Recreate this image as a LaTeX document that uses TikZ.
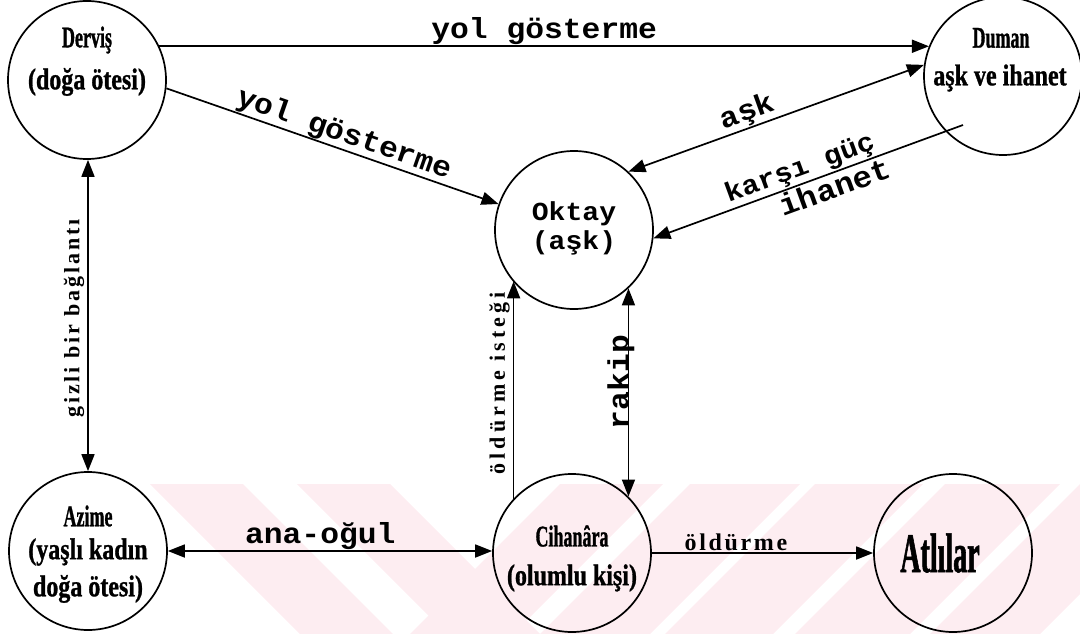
\documentclass[tikz,border=0pt]{standalone}
\usepackage{fontspec}
\usetikzlibrary{arrows.meta,calc}
\newfontfamily\monob{Liberation Mono Bold}[FakeStretch=1.08]
\newfontfamily\namefont{Liberation Serif Bold}[FakeStretch=0.6,FakeBold=1]
\newfontfamily\descfont{Liberation Serif Bold}[FakeStretch=0.8,FakeBold=1]
\newfontfamily\bigfont{Liberation Serif Bold}[FakeStretch=0.5,FakeBold=1]
\newfontfamily\smallfontA{Liberation Serif Bold}[LetterSpace=13]
\newfontfamily\smallfontB{Liberation Serif Bold}[LetterSpace=18]
\newfontfamily\smallfontC{Liberation Serif Bold}[LetterSpace=11]
\definecolor{wmpink}{RGB}{253,237,241}
\tikzset{
  ent/.style={circle,draw,line width=1.7pt,minimum size=158pt,inner sep=0pt},
  con/.style={line width=1.7pt},
  arr/.style={-{Triangle[length=17pt,width=13pt]}},
  larr/.style={{Triangle[length=17pt,width=13pt]}-},
  dbl/.style={{Triangle[length=17pt,width=13pt]}-{Triangle[length=17pt,width=13pt]}},
  nametext/.style={font=\namefont\fontsize{30}{30}\selectfont,inner sep=0pt},
  desctext/.style={font=\descfont\fontsize{30}{30}\selectfont,inner sep=0pt},
  monotext/.style={font=\monob\fontsize{26}{26}\selectfont,inner sep=0pt},
  lblm/.style={font=\monob\fontsize{29}{29}\selectfont,inner sep=0.5pt},
  lbls/.style={font=\monob\fontsize{27}{27}\selectfont,inner sep=0.5pt},
  lblgz/.style={font=\smallfontA\fontsize{22}{22}\selectfont,inner sep=3pt},
  lblis/.style={font=\smallfontB\fontsize{22}{22}\selectfont,inner sep=3pt},
  lblol/.style={font=\smallfontC\fontsize{24}{24}\selectfont,inner sep=1pt},
  wmband/.style={fill=wmpink},
}
\begin{document}
\begin{tikzpicture}[x=1pt,y=-1pt]
\useasboundingbox (0,0) rectangle (1080,634);
% faint diagonal bands along the bottom
\begin{scope}
  \clip (0,484) rectangle (1080,634);
  % left half: bands falling to the right
  \foreach \a/\w in {150/93, 297/93}
    \fill[wmband] (\a,484) -- ++(\w,0) -- ++(150,150) -- ++(-\w,0) -- cycle;
  % right half: bands rising to the right
  \foreach \a/\w in {560/103, 690/110, 815/108, 945/115, 1080/110}
    \fill[wmband] (\a,484) -- ++(\w,0) -- ++(-150,150) -- ++(-\w,0) -- cycle;
\end{scope}

% characters
\node[ent] (dervis)  at (87,80)   {};
\node[ent] (duman)   at (1003,76) {};
\node[ent] (oktay)   at (574,230) {};
\node[ent] (azime)   at (88,551)  {};
\node[ent] (cihan)   at (572,553) {};
\node[ent] (atlilar) at (953,553) {};

\node[nametext] (dervisA) at (87,40)  {Derviş};
\node[desctext] (dervisB) at (87,82)  {(doğa ötesi)};
\node[nametext] (dumanA)  at (1001,38) {Duman};
\node[desctext] (dumanB)  at (1000,78) {aşk ve ihanet};
\node[monotext] (oktayA)  at (574,214) {Oktay};
\node[monotext] (oktayB)  at (574,243) {(aşk)};
\node[nametext] (azimeA)  at (88,516) {Azime};
\node[desctext] (azimeB)  at (88,552) {(yaşlı kadın};
\node[desctext] (azimeC)  at (88,589) {doğa ötesi)};
\node[nametext] (cihanA)  at (572,536) {Cihanâra};
\node[desctext] (cihanB)  at (572,578) {(olumlu kişi)};
\node[font=\bigfont\fontsize{56}{56}\selectfont,inner sep=0pt] (atlA) at (940,553) {Atlılar};

% relations
\draw[con,arr] (dervis.25) -- (dervis.25 -| duman.158)
  node[lblm,midway,above] {yol gösterme};
\draw[con,arr] (dervis.-6) -- (oktay.161)
  node[lblm,pos=0.52,sloped,above] {yol gösterme};
\draw[con,dbl] (oktay.47) -- (duman.172)
  node[lblm,pos=0.42,sloped,above] {aşk};
\coordinate (kg) at ($(duman.center)+(-40,49)$);
\draw[con,larr] (oktay.-6) -- (kg)
  node[lbls,pos=0.49,sloped,above,inner sep=1pt] {karşı güç}
  node[lbls,pos=0.57,sloped,below,inner sep=2pt,font=\monob\fontsize{30}{30}\selectfont] {ihanet};
\draw[con,dbl] (azime.north) -- (azime.north |- dervis.south)
  node[lblgz,pos=0.49,sloped,above] {gizli bir bağlantı};
\draw[con,arr] (cihan.137) -- (cihan.137 |- oktay.220)
  node[lblis,pos=0.53,sloped,above] {öldürme isteği};
\draw[con,dbl] (cihan.45) -- (cihan.45 |- oktay.-47)
  node[lblm,pos=0.55,sloped,anchor=base,inner sep=0pt] {rakip};
\draw[con,dbl] (azime.east) -- (azime.east -| cihan.west)
  node[lblm,pos=0.47,above] {ana-oğul};
\draw[con,arr] (cihan.east) -- (atlilar.west)
  node[lblol,pos=0.38,above] {öldürme};
\end{tikzpicture}
\end{document}
